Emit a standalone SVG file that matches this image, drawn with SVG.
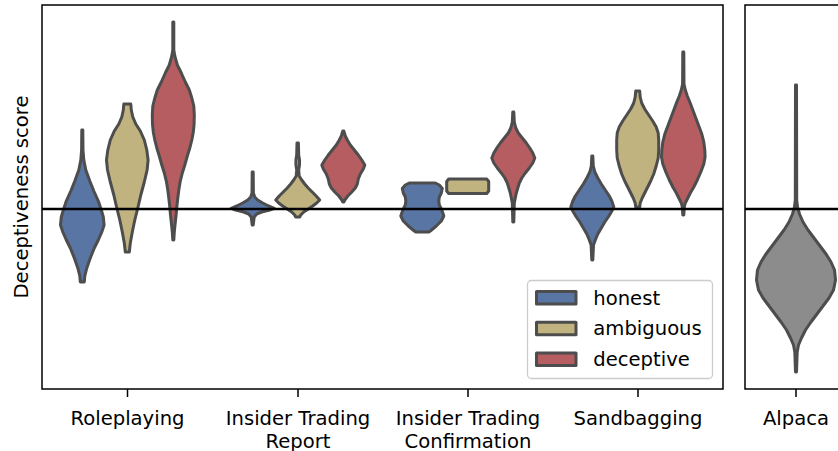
<svg xmlns="http://www.w3.org/2000/svg" width="838" height="451" viewBox="0 0 838 451">
<style>
text{font-family:"DejaVu Sans","Liberation Sans",sans-serif;font-size:19.6px;fill:#000}
.v{stroke:#4d4d4d;stroke-width:3;stroke-linejoin:round}
.h{fill:#5875a4}.a{fill:#c1b37f}.d{fill:#b55d60}.g{fill:#8c8c8c}
.sp{fill:none;stroke:#000;stroke-width:1.5}
.tk{stroke:#000;stroke-width:1.5}
.z{stroke:#000;stroke-width:2.3}
</style>
<rect width="838" height="451" fill="#fff"/>
<g id="violins">
<g id="roleplaying">
<path class="v h" transform="translate(82.3,0)" d="M0.5,130 L0.7,150 L1.5,160 L3.5,170 L7.5,181 L11.5,191 L16,201 L19,210 L21,217 L21.8,225 L19.5,232 L16,240 L12,248 L8,258 L4.5,268 L2.5,276 L2,282 L-2,282 L-2.5,276 L-4.5,268 L-8,258 L-12,248 L-16,240 L-19.5,232 L-21.8,225 L-21,217 L-19,210 L-16,201 L-11.5,191 L-7.5,181 L-3.5,170 L-1.5,160 L-0.7,150 L-0.5,130 Z"/>
<path class="v a" transform="translate(127.3,0)" d="M3.5,104 L4,110 L5.5,117 L8.5,124 L13,131 L17,140 L19.5,150 L20.8,160 L19.8,170 L17,182 L13.5,195 L10.5,208 L7.5,220 L5,232 L3,243 L2,252 L-2,252 L-3,243 L-5,232 L-7.5,220 L-10.5,208 L-13.5,195 L-17,182 L-19.8,170 L-20.8,160 L-19.5,150 L-17,140 L-13,131 L-8.5,124 L-5.5,117 L-4,110 L-3.5,104 Z"/>
<path class="v d" transform="translate(173.3,0)" d="M0.5,22 L0.5,50 L1.5,56 L4,65 L8,73 L12,82 L16,90 L18.5,98 L20.5,106 L21,115 L20.8,124 L20,132 L18.5,140 L16.5,148 L14,156 L11.5,165 L9,173 L6.8,182 L5.5,190 L4.5,198 L3.5,207 L2.8,215 L1.8,224 L1,232 L0.5,240 L-0.5,240 L-1,232 L-1.8,224 L-2.8,215 L-3.5,207 L-4.5,198 L-5.5,190 L-6.8,182 L-9,173 L-11.5,165 L-14,156 L-16.5,148 L-18.5,140 L-20,132 L-20.8,124 L-21,115 L-20.5,106 L-18.5,98 L-16,90 L-12,82 L-8,73 L-4,65 L-1.5,56 L-0.5,50 L-0.5,22 Z"/>
</g>
<g id="insider-trading-report">
<path class="v h" transform="translate(252.7,0)" d="M0.5,172 L0.7,193 L2,197 L5,200 L10,203 L16,206 L21.5,208.3 L17,210 L9,212 L4,214 L1.5,217 L0.5,225 L-0.5,225 L-1.5,217 L-4,214 L-9,212 L-17,210 L-21.5,208.3 L-16,206 L-10,203 L-5,200 L-2,197 L-0.7,193 L-0.5,172 Z"/>
<path class="v a" transform="translate(297.7,0)" d="M0.7,143 L1,155 L1.8,160 L1.8,165 L1,170 L1.5,176 L4,180 L7,184 L10.5,188 L14.5,192 L18.5,196 L22,200 L19,203 L15,206 L10.5,209 L6,212 L3,215 L2,217 L-2,217 L-3,215 L-6,212 L-10.5,209 L-15,206 L-19,203 L-22,200 L-18.5,196 L-14.5,192 L-10.5,188 L-7,184 L-4,180 L-1.5,176 L-1,170 L-1.8,165 L-1.8,160 L-1,155 L-0.7,143 Z"/>
<path class="v d" transform="translate(343.3,0)" d="M0.5,131 L2,136 L4,140 L7,145 L11,150 L15,155 L18.5,160 L21.5,165 L20,169 L17,174 L15,179 L14,184 L12,188 L8.5,192 L4.5,196 L1.5,200 L0.5,202 L-0.5,202 L-1.5,200 L-4.5,196 L-8.5,192 L-12,188 L-14,184 L-15,179 L-17,174 L-20,169 L-21.5,165 L-18.5,160 L-15,155 L-11,150 L-7,145 L-4,140 L-2,136 L-0.5,131 Z"/>
</g>
<g id="insider-trading-confirmation">
<path class="v h" transform="translate(422.3,0)" d="M13,183 L17,185 L20,188.5 L19,193 L17,197 L16.5,201 L17,205 L19.5,210 L21.5,216 L19,221 L14,226 L8,231 L6.5,232 L-6.5,232 L-8,231 L-14,226 L-19,221 L-21.5,216 L-19.5,210 L-17,205 L-16.5,201 L-17,197 L-19,193 L-20,188.5 L-17,185 L-13,183 Z"/>
<path class="v a" transform="translate(467.7,0)" d="M19,179 L21,181.5 L21,191 L19,193.5 L-19,193.5 L-21,191 L-21,181.5 L-19,179 Z"/>
<path class="v d" transform="translate(513.3,0)" d="M0.5,112 L1,122 L2.5,128 L5,133 L9,138 L13,143 L16.5,148 L19.5,153 L21.5,158 L19.5,163 L16,168 L12,173 L8.5,178 L6,183 L4.5,188 L3,193 L2,198 L1,203 L0.5,222 L-0.5,222 L-1,203 L-2,198 L-3,193 L-4.5,188 L-6,183 L-8.5,178 L-12,173 L-16,168 L-19.5,163 L-21.5,158 L-19.5,153 L-16.5,148 L-13,143 L-9,138 L-5,133 L-2.5,128 L-1,122 L-0.5,112 Z"/>
</g>
<g id="sandbagging">
<path class="v h" transform="translate(592.3,0)" d="M0.5,156 L1,166 L2.5,172 L5.5,178 L9,184 L13,190 L17,196 L19.5,201 L21.5,207 L19,212 L16,217 L12.5,222 L9,228 L5.5,234 L3,240 L1.2,245 L0.5,260 L-0.5,260 L-1.2,245 L-3,240 L-5.5,234 L-9,228 L-12.5,222 L-16,217 L-19,212 L-21.5,207 L-19.5,201 L-17,196 L-13,190 L-9,184 L-5.5,178 L-2.5,172 L-1,166 L-0.5,156 Z"/>
<path class="v a" transform="translate(637.7,0)" d="M2,91 L2.5,97 L4,103 L7,109 L11,115 L15,121 L18.5,127 L20.5,133 L21,140 L21,150 L20.5,158 L18.5,166 L16,174 L13,181 L10,187 L7,193 L4.5,198 L2.5,203 L2,207 L-2,207 L-2.5,203 L-4.5,198 L-7,193 L-10,187 L-13,181 L-16,174 L-18.5,166 L-20.5,158 L-21,150 L-21,140 L-20.5,133 L-18.5,127 L-15,121 L-11,115 L-7,109 L-4,103 L-2.5,97 L-2,91 Z"/>
<path class="v d" transform="translate(683.3,0)" d="M0.5,52 L0.7,84 L2,90 L4,96 L6.5,102 L9.5,110 L12.5,118 L15.5,126 L18.5,134 L20.5,142 L21.5,150 L21.8,157 L20.5,164 L17.5,172 L14,180 L10.5,187 L7,193 L4.5,198 L2,203 L1,207 L0.5,215 L-0.5,215 L-1,207 L-2,203 L-4.5,198 L-7,193 L-10.5,187 L-14,180 L-17.5,172 L-20.5,164 L-21.8,157 L-21.5,150 L-20.5,142 L-18.5,134 L-15.5,126 L-12.5,118 L-9.5,110 L-6.5,102 L-4,96 L-2,90 L-0.7,84 L-0.5,52 Z"/>
</g>
<g id="alpaca">
<path class="v g" transform="translate(796,0)" d="M0.5,85 L0.7,200 L1.5,207 L3.5,214 L7,222 L12,230 L18,238 L24,246 L30,254 L35,262 L38.5,270 L39.5,280 L37.5,290 L33,298 L27,306 L21,314 L15,322 L9.5,330 L5.5,338 L2.5,345 L1.2,352 L0.5,372 L-0.5,372 L-1.2,352 L-2.5,345 L-5.5,338 L-9.5,330 L-15,322 L-21,314 L-27,306 L-33,298 L-37.5,290 L-39.5,280 L-38.5,270 L-35,262 L-30,254 L-24,246 L-18,238 L-12,230 L-7,222 L-3.5,214 L-1.5,207 L-0.7,200 L-0.5,85 Z"/>
</g>
</g>
<g id="axes">
<line class="z" x1="42" y1="209" x2="723" y2="209"/>
<line class="z" x1="745" y1="209" x2="838" y2="209"/>
<rect class="sp" x="42" y="5" width="681" height="384"/>
<path class="sp" d="M840,5 H745 V389 H840"/>
<line class="tk" x1="127.5" y1="389" x2="127.5" y2="397"/>
<line class="tk" x1="298" y1="389" x2="298" y2="397"/>
<line class="tk" x1="468" y1="389" x2="468" y2="397"/>
<line class="tk" x1="638" y1="389" x2="638" y2="397"/>
<line class="tk" x1="796" y1="389" x2="796" y2="397"/>
</g>
<g id="labels" text-anchor="middle">
<text x="127.5" y="425">Roleplaying</text>
<text x="298" y="425">Insider Trading</text>
<text x="298" y="448">Report</text>
<text x="468" y="425">Insider Trading</text>
<text x="468" y="448">Confirmation</text>
<text x="638" y="425">Sandbagging</text>
<text x="796" y="425">Alpaca</text>
<text transform="translate(27.8,197) rotate(-90)">Deceptiveness score</text>
</g>
<g id="legend">
<rect x="527.5" y="280.5" width="185" height="98" rx="4" fill="#fff" fill-opacity="0.8" stroke="#cccccc" stroke-width="1.3"/>
<rect class="v h" x="536.5" y="291.5" width="39.5" height="12.5"/>
<rect class="v a" x="536.5" y="322.2" width="39.5" height="12.5"/>
<rect class="v d" x="536.5" y="352.9" width="39.5" height="12.5"/>
<text x="593.3" y="304.5">honest</text>
<text x="593.3" y="335">ambiguous</text>
<text x="593.3" y="365.5">deceptive</text>
</g>
</svg>
